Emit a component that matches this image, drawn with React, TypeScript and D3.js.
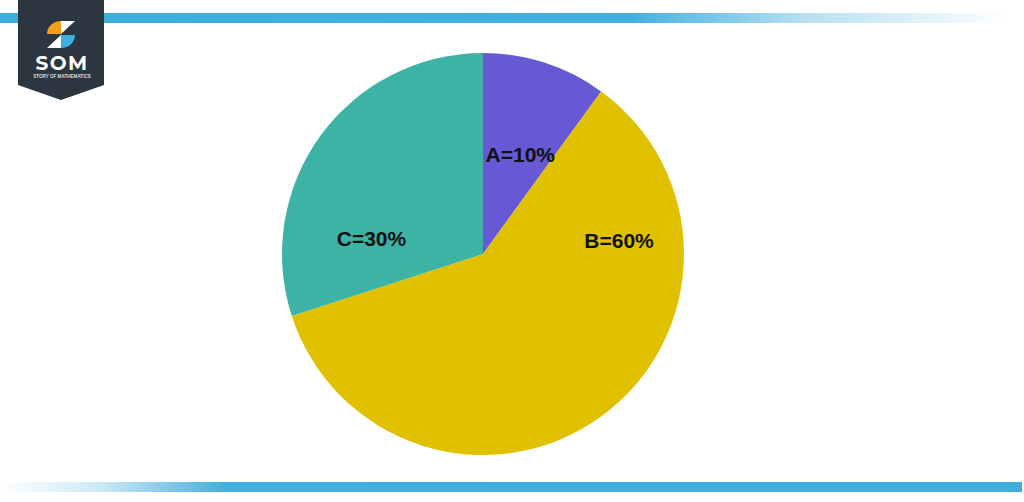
import React from "react";
import * as d3 from "d3";

const categories = ["A", "B", "C"];
const values = [10, 60, 30];
const colors = ["#6759d6", "#e0c100", "#3db3a6"];
// label placement: angle (deg, clockwise from top) and radius fraction
const labelAngles = [20.5, 84.5, 277.7];
const labelRadii = [0.53, 0.68, 0.56];

const W = 1024;
const H = 502;
const cx = 483;
const cy = 254;
const R = 201;

export default function App() {
  const pie = d3.pie<number>().sort(null).value((d) => d)(values);
  const arc = d3.arc<d3.PieArcDatum<number>>().innerRadius(0).outerRadius(R);
  const total = d3.sum(values);
  return (
    <svg width={W} height={H} style={{ position: "absolute", left: 0, top: 0 }}>
      <defs>
        <linearGradient id="topg" x1="0" x2="1" y1="0" y2="0">
          <stop offset="0" stopColor="#3eaedd" />
          <stop offset="0.62" stopColor="#42afdd" />
          <stop offset="0.8" stopColor="#b8e0f3" />
          <stop offset="1" stopColor="#ffffff" />
        </linearGradient>
        <linearGradient id="botg" x1="0" x2="1" y1="0" y2="0">
          <stop offset="0" stopColor="#ffffff" />
          <stop offset="0.1" stopColor="#cce8f5" />
          <stop offset="0.22" stopColor="#42afdd" />
          <stop offset="1" stopColor="#3eaedd" />
        </linearGradient>
      </defs>
      <rect x={0} y={0} width={W} height={H} fill="#ffffff" />
      <rect x={0} y={13} width={1010} height={10} fill="url(#topg)" />
      <rect x={0} y={482} width={1022} height={10} fill="url(#botg)" />
      {/* logo */}
      <path d="M18,0 L104,0 L104,85 L61,100 L18,85 Z" fill="#2b3640" />
      <path d="M61,21 L61,34 L47,34 A14,13 0 0 1 61,21 Z" fill="#f5a01c" />
      <path d="M61,21 L75,21 L61,34 Z" fill="#ffffff" />
      <path d="M61,35 L75,35 A14,13 0 0 1 61,48 Z" fill="#3caee0" />
      <path d="M61,35 L61,48 L47,48 Z" fill="#ffffff" />
      <text x={62} y={70} textAnchor="middle" fill="#ffffff" fontFamily="Montserrat, 'Open Sans', Arial, sans-serif" fontWeight={700} fontSize={20} letterSpacing={1.5}>SOM</text>
      <text x={62} y={77.5} textAnchor="middle" fill="#d9dde0" fontFamily="Arial, sans-serif" fontWeight={700} fontSize={4.6}>STORY OF MATHEMATICS</text>
      <g transform={`translate(${cx},${cy})`}>
        {pie.map((p, i) => (
          <path key={categories[i]} d={arc(p) || ""} fill={colors[i]} />
        ))}
        {pie.map((p, i) => {
          const a = (labelAngles[i] * Math.PI) / 180;
          const r = labelRadii[i] * R;
          return (
            <text
              key={"l" + categories[i]}
              x={Math.sin(a) * r}
              y={-Math.cos(a) * r}
              textAnchor="middle"
              dominantBaseline="central"
              fontFamily="'Liberation Sans', Arial, sans-serif"
              fontWeight={700}
              fontSize={21}
              fill="#111111"
            >
              {`${categories[i]}=${Math.round((p.data / total) * 100)}%`}
            </text>
          );
        })}
      </g>
    </svg>
  );
}
